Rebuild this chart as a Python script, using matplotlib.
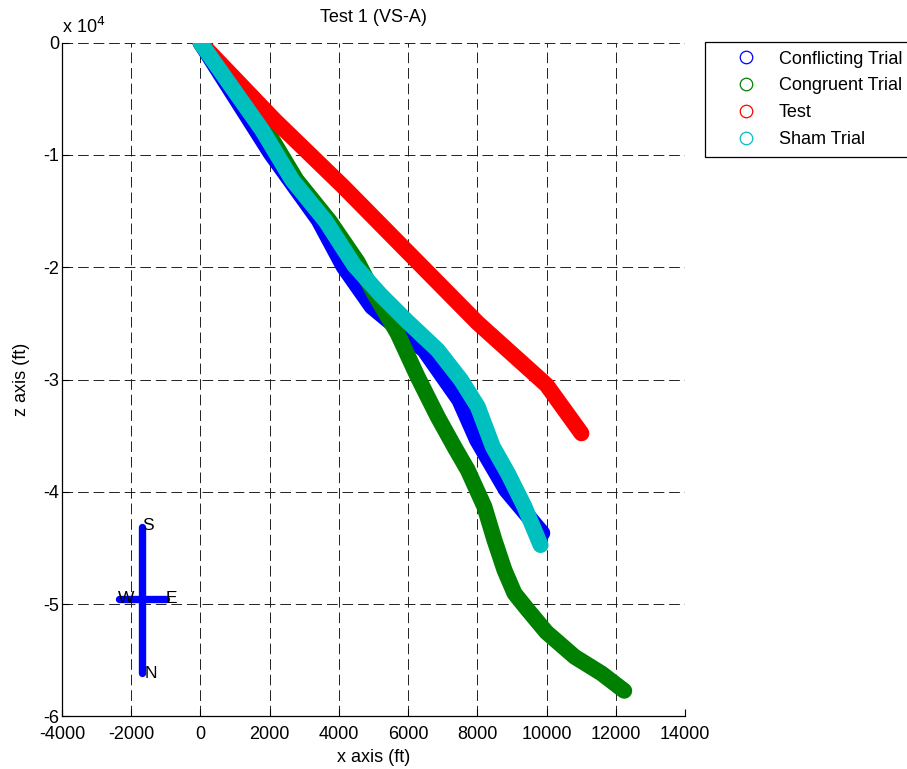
import matplotlib
matplotlib.use("Agg")
import matplotlib.pyplot as plt
from matplotlib.lines import Line2D
from matplotlib.ticker import FuncFormatter

plt.rcParams["font.family"] = ["Liberation Sans", "DejaVu Sans"]
plt.rcParams["axes.unicode_minus"] = False

# Flight paths (x, z in ft)
conflicting_x = [0, 2029, 3412, 4136, 4948, 6464, 7478, 7991, 8832, 9875]
conflicting_z = [0, -9850, -15790, -19950, -23513, -27370, -31822, -35385, -39838, -43670]

congruent_x = [0, 1904, 2774, 3730, 4542, 5014, 5693, 6272, 6852, 7354, 7722, 8203,
               8493, 8783, 9072, 9461, 9991, 10812, 11586, 12243]
congruent_z = [0, -7775, -12228, -15880, -19532, -22319, -25882, -29747, -33310, -36098,
               -38057, -41325, -44291, -46963, -49038, -50525, -52484, -54684, -56163, -57713]

test_x = [0, 2141, 4107, 5788, 8012, 10000, 11006]
test_z = [0, -6894, -12763, -18017, -24965, -30486, -34787]

sham_x = [0, 1780, 2649, 3614, 4435, 5209, 5983, 6852, 7528, 8012, 8446, 8881, 9362, 9826]
sham_z = [0, -7775, -12228, -15880, -19799, -22471, -24849, -27370, -30042, -32419,
          -35982, -38351, -41325, -44735]

series_names = ["Conflicting Trial", "Congruent Trial", "Test", "Sham Trial"]
series_colors = ["#0000ff", "#008000", "#ff0000", "#00bfbf"]

# Compass rose
compass_ns_x = [-1700, -1700]
compass_ns_z = [-43130, -56140]
compass_we_x = [-2365, -986]
compass_we_z = [-49500, -49500]
compass_labels = ["S", "N", "W", "E"]
compass_label_x = [-1680, -1626, -2383, -994]
compass_label_z = [-43000, -56140, -49450, -49450]

x_ticks = list(range(-4000, 14001, 2000))
z_ticks = [0, -10000, -20000, -30000, -40000, -50000, -60000]

fig = plt.figure(figsize=(9.07, 7.69), dpi=100)
ax = fig.add_axes([0.0684, 0.0683, 0.6869, 0.8762])

paths = [(conflicting_x, conflicting_z), (congruent_x, congruent_z),
         (test_x, test_z), (sham_x, sham_z)]
for (px, pz), c in zip(paths, series_colors):
    ax.plot(px, pz, color=c, lw=11.5, solid_capstyle="round", solid_joinstyle="round")

for cx, cz in [(compass_ns_x, compass_ns_z), (compass_we_x, compass_we_z)]:
    ax.plot(cx, cz, color="#0000ff", lw=5.3, solid_capstyle="round")
for lab, lx, lz in zip(compass_labels, compass_label_x, compass_label_z):
    ax.text(lx, lz, lab, fontsize=12.5, ha="left", va="center", color="black")

ax.set_xlim(-4000, 14000)
ax.set_ylim(-60000, 0)
ax.set_xticks(x_ticks)
ax.set_yticks(z_ticks)
ax.yaxis.set_major_formatter(FuncFormatter(lambda v, p: "%g" % (v / 1e4)))
ax.tick_params(direction="in", length=5, labelsize=13, top=False, right=False,
               width=0.8)
ax.tick_params(axis="x", pad=7)
ax.tick_params(axis="y", pad=2)
for side in ["top", "right"]:
    ax.spines[side].set_visible(False)
for side in ["left", "bottom"]:
    ax.spines[side].set_linewidth(0.9)

ax.grid(True, color="#202020", lw=0.7, linestyle=(0, (11, 5)))
ax.set_axisbelow(True)

ax.set_title("Test 1 (VS-A)", fontsize=13, pad=15)
ax.set_xlabel("x axis (ft)", fontsize=13, labelpad=4)
ax.set_ylabel("z axis (ft)", fontsize=13)
ax.yaxis.set_label_coords(-0.0514, 0.5)
fig.text(62 / 907, 1 - 33 / 769, "x 10$^{4}$", fontsize=13, ha="left", va="baseline")

handles = [Line2D([], [], marker="o", linestyle="none", markerfacecolor="none",
                  markeredgecolor=c, markersize=9, markeredgewidth=0.9)
           for c in series_colors]
leg = fig.legend(handles, series_names, loc="upper left",
                 bbox_to_anchor=(705 / 907, 1 - 41.7 / 769), borderaxespad=0,
                 fontsize=13, handlelength=3.5, handletextpad=0.1,
                 labelspacing=0.54, borderpad=0.5, fancybox=False, framealpha=1)
leg.get_frame().set_edgecolor("black")
leg.get_frame().set_linewidth(0.9)

fig.savefig("out.png", dpi=100)
